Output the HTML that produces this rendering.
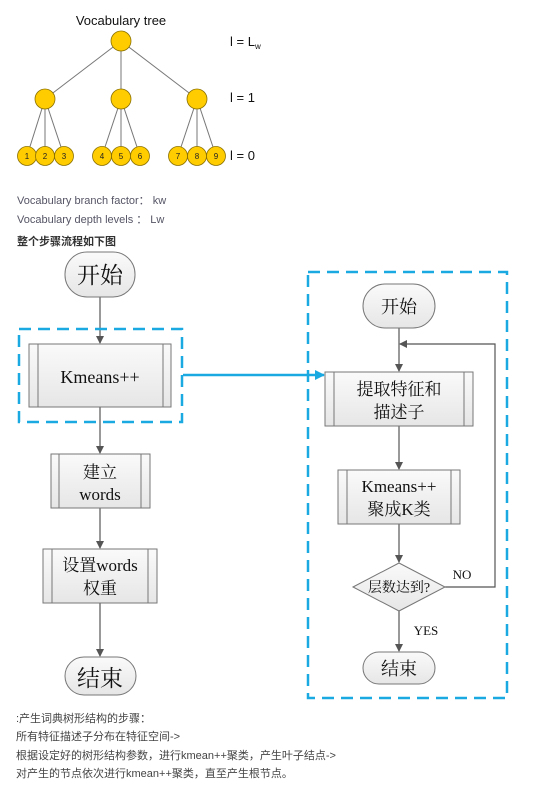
<!DOCTYPE html>
<html><head><meta charset="utf-8"><style>
html,body{margin:0;padding:0;background:#fff;width:551px;height:785px;overflow:hidden}
svg{display:block}
.s{font-family:"Liberation Sans","Noto Sans CJK SC",sans-serif}
.f{font-family:"Liberation Serif","Noto Serif CJK SC",serif;fill:#111}
</style></head><body>
<svg width="551" height="785" viewBox="0 0 551 785" xmlns="http://www.w3.org/2000/svg">
<defs>
<linearGradient id="g" x1="0" y1="0" x2="0" y2="1"><stop offset="0" stop-color="#fafafa"/><stop offset="1" stop-color="#e6e6e6"/></linearGradient>
<marker id="a" markerWidth="8" markerHeight="8" refX="7" refY="4" orient="auto" markerUnits="userSpaceOnUse"><path d="M0,0 L8,4 L0,8 Z" fill="#555"/></marker>
<marker id="b" markerWidth="10" markerHeight="10" refX="9" refY="5" orient="auto" markerUnits="userSpaceOnUse"><path d="M0,0 L10,5 L0,10 Z" fill="#1aa9e0"/></marker>
</defs>
<!-- tree -->
<text x="121" y="25" class="s" font-size="13" text-anchor="middle" fill="#111">Vocabulary tree</text>
<g stroke="#777" stroke-width="1">
<line x1="121" y1="41" x2="45" y2="99"/><line x1="121" y1="41" x2="121" y2="99"/><line x1="121" y1="41" x2="197" y2="99"/>
<line x1="45" y1="99" x2="27" y2="156"/><line x1="45" y1="99" x2="45" y2="156"/><line x1="45" y1="99" x2="64" y2="156"/>
<line x1="121" y1="99" x2="102" y2="156"/><line x1="121" y1="99" x2="121" y2="156"/><line x1="121" y1="99" x2="140" y2="156"/>
<line x1="197" y1="99" x2="178" y2="156"/><line x1="197" y1="99" x2="197" y2="156"/><line x1="197" y1="99" x2="216" y2="156"/>
</g>
<g fill="#ffcc00" stroke="#8a7000" stroke-width="0.8">
<circle cx="121" cy="41" r="10"/><circle cx="45" cy="99" r="10"/><circle cx="121" cy="99" r="10"/><circle cx="197" cy="99" r="10"/>
<circle cx="27" cy="156" r="9.5"/><circle cx="45" cy="156" r="9.5"/><circle cx="64" cy="156" r="9.5"/>
<circle cx="102" cy="156" r="9.5"/><circle cx="121" cy="156" r="9.5"/><circle cx="140" cy="156" r="9.5"/>
<circle cx="178" cy="156" r="9.5"/><circle cx="197" cy="156" r="9.5"/><circle cx="216" cy="156" r="9.5"/>
</g>
<g class="s" font-size="8" text-anchor="middle" fill="#222">
<text x="27" y="159">1</text><text x="45" y="159">2</text><text x="64" y="159">3</text>
<text x="102" y="159">4</text><text x="121" y="159">5</text><text x="140" y="159">6</text>
<text x="178" y="159">7</text><text x="197" y="159">8</text><text x="216" y="159">9</text>
</g>
<g class="s" font-size="13" fill="#111">
<text x="230" y="46">l = L<tspan font-size="8" dy="3">w</tspan></text>
<text x="230" y="102">l = 1</text>
<text x="230" y="160">l = 0</text>
</g>
<g class="s" font-size="11" fill="#556">
<text x="17" y="204">Vocabulary branch factor： kw</text>
<text x="17" y="223">Vocabulary depth levels ： Lw</text>
</g>
<text x="17" y="245" class="s" font-size="11" font-weight="bold" fill="#333">整个步骤流程如下图</text>
<!-- left flow -->
<g stroke="#555" stroke-width="1.2" fill="none">
<line x1="100" y1="297" x2="100" y2="343" marker-end="url(#a)"/>
<line x1="100" y1="407" x2="100" y2="453" marker-end="url(#a)"/>
<line x1="100" y1="508" x2="100" y2="548" marker-end="url(#a)"/>
<line x1="100" y1="603" x2="100" y2="656" marker-end="url(#a)"/>
</g>
<g stroke="#777" fill="url(#g)">
<rect x="65" y="252" width="70" height="45" rx="22"/>
<rect x="29" y="344" width="142" height="63"/>
<rect x="51" y="454" width="99" height="54"/>
<rect x="43" y="549" width="114" height="54"/>
<rect x="65" y="657" width="71" height="38" rx="19"/>
</g>
<g stroke="#777">
<line x1="38" y1="344" x2="38" y2="407"/><line x1="163" y1="344" x2="163" y2="407"/>
<line x1="59" y1="454" x2="59" y2="508"/><line x1="141" y1="454" x2="141" y2="508"/>
<line x1="52" y1="549" x2="52" y2="603"/><line x1="148" y1="549" x2="148" y2="603"/>
</g>
<g class="f" text-anchor="middle">
<text x="100" y="283" font-size="23">开始</text>
<text x="100" y="383" font-size="18">Kmeans++</text>
<text x="100" y="478" font-size="17">建立</text>
<text x="100" y="500" font-size="17">words</text>
<text x="100" y="571" font-size="17">设置words</text>
<text x="100" y="594" font-size="17">权重</text>
<text x="100" y="686" font-size="23">结束</text>
</g>
<g stroke="#1aa9e0" stroke-width="2.5" fill="none" stroke-dasharray="12,7">
<rect x="19" y="329" width="163" height="93"/>
<rect x="308" y="272" width="199" height="426"/>
</g>
<line x1="183" y1="375" x2="324" y2="375" stroke="#1aa9e0" stroke-width="2.5" marker-end="url(#b)"/>
<!-- right flow -->
<g stroke="#555" stroke-width="1.2" fill="none">
<line x1="399" y1="328" x2="399" y2="371" marker-end="url(#a)"/>
<polyline points="445,587 495,587 495,344 400,344" marker-end="url(#a)"/>
<line x1="399" y1="426" x2="399" y2="469" marker-end="url(#a)"/>
<line x1="399" y1="524" x2="399" y2="562" marker-end="url(#a)"/>
<line x1="399" y1="611" x2="399" y2="651" marker-end="url(#a)"/>
</g>
<g stroke="#777" fill="url(#g)">
<rect x="363" y="284" width="72" height="44" rx="22"/>
<rect x="325" y="372" width="148" height="54"/>
<rect x="338" y="470" width="122" height="54"/>
<polygon points="353,587 399,563 445,587 399,611"/>
<rect x="363" y="652" width="72" height="32" rx="16"/>
</g>
<g stroke="#777">
<line x1="334" y1="372" x2="334" y2="426"/><line x1="464" y1="372" x2="464" y2="426"/>
<line x1="347" y1="470" x2="347" y2="524"/><line x1="451" y1="470" x2="451" y2="524"/>
</g>
<g class="f" text-anchor="middle">
<text x="399" y="313" font-size="18">开始</text>
<text x="399" y="395" font-size="17">提取特征和</text>
<text x="399" y="418" font-size="17">描述子</text>
<text x="399" y="492" font-size="17">Kmeans++</text>
<text x="399" y="515" font-size="17">聚成K类</text>
<text x="399" y="592" font-size="14">层数达到?</text>
<text x="399" y="675" font-size="18">结束</text>
<text x="462" y="579" font-size="13">NO</text>
<text x="426" y="635" font-size="13">YES</text>
</g>
<g class="s" font-size="11" fill="#444">
<text x="16" y="722">:产生词典树形结构的步骤：</text>
<text x="16" y="740">所有特征描述子分布在特征空间-&gt;</text>
<text x="16" y="759">根据设定好的树形结构参数，进行kmean++聚类，产生叶子结点-&gt;</text>
<text x="16" y="777">对产生的节点依次进行kmean++聚类，直至产生根节点。</text>
</g>
</svg>
</body></html>
